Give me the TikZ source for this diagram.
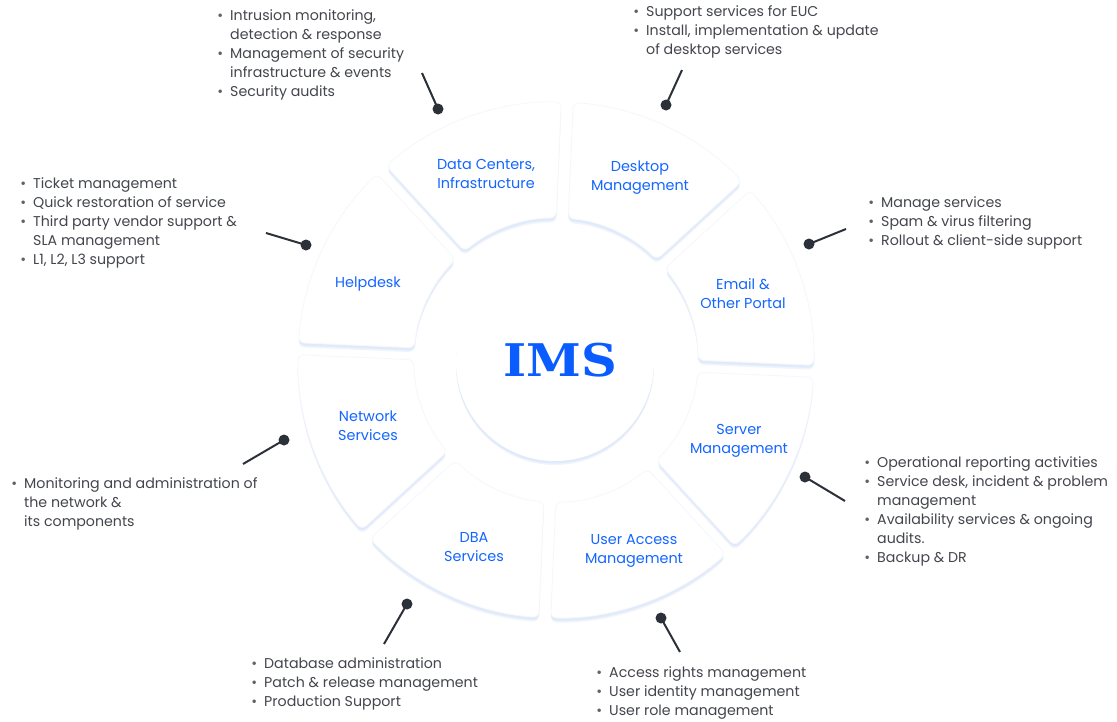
\documentclass[tikz,border=0pt]{standalone}
\usepackage{fontspec}
\newfontfamily\pop{Poppins}
\newfontfamily\imsfont{DejaVu Serif}
\definecolor{imsblue}{HTML}{0A5CFF}
\definecolor{lblblue}{HTML}{1466FF}
\definecolor{txtgray}{HTML}{43464C}
\definecolor{bulgray}{HTML}{5F6369}
\definecolor{conn}{HTML}{2C3038}
\definecolor{shadowA}{HTML}{E1EAFA}
\definecolor{shadowB}{HTML}{F0F4FC}
\definecolor{rim}{HTML}{F5F7FB}
\newcommand\lbul{\llap{\textcolor{bulgray}{\textbullet}\hspace{7pt}}}
\begin{document}
\begin{tikzpicture}[x=1pt,y=-1pt,
  lst/.style={font=\pop\fontsize{14.2}{19}\selectfont, text=txtgray, align=left, inner sep=0pt, anchor=base west},
  lbl/.style={font=\pop\fontsize{14.4}{19}\selectfont, text=lblblue, align=center, inner sep=0pt},
  cline/.style={draw=conn, line width=2pt},
  cdot/.style={fill=conn}]
\useasboundingbox (0,0) rectangle (1117,721);
\fill[white] (0,0) rectangle (1117,721);

% central circle
\fill[shadowB] (555,366) circle[radius=99];
\fill[shadowA] (555,364.5) circle[radius=99];
\fill[white] (555,362) circle[radius=99];

% sectors
\foreach \a/\b in {317.5/362.5, 2.5/47.5, 47.5/92.5, 92.5/137.5, 137.5/182.5, 182.5/227.5, 227.5/272.5, 272.5/317.5}{
  \fill[shadowB, rounded corners=6pt, shift={(0,4.5)}]
    ({556+142*cos(\a+2.42)},{360+142*sin(\a+2.42)}) arc[start angle={\a+2.42}, end angle={\b-2.42}, radius=142]
    -- ({556+258*cos(\b-1.33)},{360+258*sin(\b-1.33)}) arc[start angle={\b-1.33}, end angle={\a+1.33}, radius=258] -- cycle;
  \fill[shadowA, rounded corners=6pt, shift={(0,2.8)}]
    ({556+142*cos(\a+2.42)},{360+142*sin(\a+2.42)}) arc[start angle={\a+2.42}, end angle={\b-2.42}, radius=142]
    -- ({556+258*cos(\b-1.33)},{360+258*sin(\b-1.33)}) arc[start angle={\b-1.33}, end angle={\a+1.33}, radius=258] -- cycle;
  \filldraw[fill=white, draw=rim, line width=0.8pt, rounded corners=6pt]
    ({556+142*cos(\a+2.42)},{360+142*sin(\a+2.42)}) arc[start angle={\a+2.42}, end angle={\b-2.42}, radius=142]
    -- ({556+258*cos(\b-1.33)},{360+258*sin(\b-1.33)}) arc[start angle={\b-1.33}, end angle={\a+1.33}, radius=258] -- cycle;
}

% centre title
\node[font=\imsfont\bfseries\fontsize{45}{45}\selectfont, text=imsblue, inner sep=0pt, xscale=1.1, transform shape] (ims) at (560,360) {IMS};

% sector labels
\node[lbl] (dcLbl) at (486,174) {Data Centers,\\Infrastructure};
\node[lbl] (dkLbl) at (640,178) {Desktop\\Management};
\node[lbl] (emLbl) at (743,294) {Email \&\\Other Portal};
\node[lbl] (svLbl) at (739,441) {Server\\Management};
\node[lbl] (uaLbl) at (634,551) {User Access\\Management};
\node[lbl] (dbLbl) at (474,547) {DBA\\Services};
\node[lbl] (nwLbl) at (368,426) {Network\\Services};
\node[lbl] (hdLbl) at (368,284) {Helpdesk};

% connectors
\coordinate (dcD) at (438,109); \coordinate (dcE) at (422,73);
\coordinate (dkD) at (666,105); \coordinate (dkE) at (682,70);
\coordinate (emD) at (809,244); \coordinate (emE) at (846,229);
\coordinate (svD) at (805,477); \coordinate (svE) at (845,501);
\coordinate (uaD) at (661,618); \coordinate (uaE) at (680,652);
\coordinate (dbD) at (407,604); \coordinate (dbE) at (384,644);
\coordinate (nwD) at (284,440); \coordinate (nwE) at (243,464);
\coordinate (hdD) at (306,245); \coordinate (hdE) at (266,233);
\foreach \n in {dc,dk,em,sv,ua,db,nw,hd}{
  \draw[cline] (\n D) -- (\n E);
  \fill[cdot] (\n D) circle[radius=5.5];
}

% lists (anchor = baseline of the last line)
\node[lst] (dcList) at (230,96.5) {\lbul Intrusion monitoring,\\detection \& response\\\lbul Management of security\\infrastructure \& events\\\lbul Security audits};
\node[lst] (dkList) at (646,54.5) {\lbul Support services for EUC\\\lbul Install, implementation \& update\\of desktop services};
\node[lst] (emList) at (881,245.5) {\lbul Manage services\\\lbul Spam \& virus filtering\\\lbul Rollout \& client-side support};
\node[lst] (svList) at (877,562.5) {\lbul Operational reporting activities\\\lbul Service desk, incident \& problem\\management\\\lbul Availability services \& ongoing\\audits.\\\lbul Backup \& DR};
\node[lst] (uaList) at (609,715.5) {\lbul Access rights management\\\lbul User identity management\\\lbul User role management};
\node[lst] (dbList) at (264,706.5) {\lbul Database administration\\\lbul Patch \& release management\\\lbul Production Support};
\node[lst] (nwList) at (24,526.5) {\lbul Monitoring and administration of\\the network \&\\its components};
\node[lst] (hdList) at (33,264.5) {\lbul Ticket management\\\lbul Quick restoration of service\\\lbul Third party vendor support \&\\SLA management\\\lbul L1, L2, L3 support};
\end{tikzpicture}
\end{document}
